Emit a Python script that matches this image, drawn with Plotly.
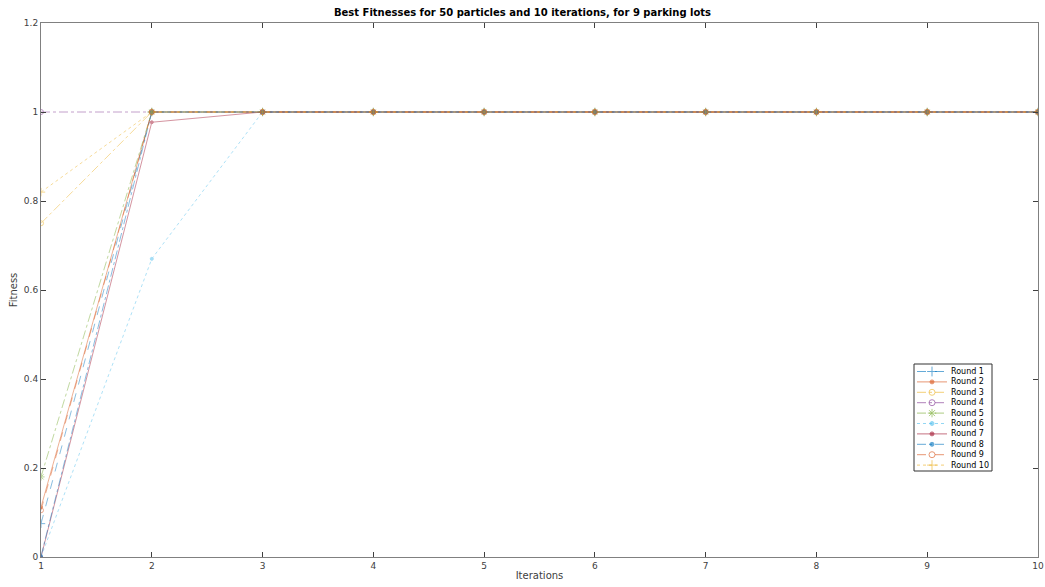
import plotly.graph_objects as go

iterations = [1, 2, 3, 4, 5, 6, 7, 8, 9, 10]
round_names = ["Round 1", "Round 2", "Round 3", "Round 4", "Round 5",
               "Round 6", "Round 7", "Round 8", "Round 9", "Round 10"]
round1 = [0.075, 1, 1, 1, 1, 1, 1, 1, 1, 1]
round2 = [0.112, 1, 1, 1, 1, 1, 1, 1, 1, 1]
round3 = [0.75, 1, 1, 1, 1, 1, 1, 1, 1, 1]
round4 = [1.0, 1, 1, 1, 1, 1, 1, 1, 1, 1]
round5 = [0.18, 1, 1, 1, 1, 1, 1, 1, 1, 1]
round6 = [0.0, 0.67, 1, 1, 1, 1, 1, 1, 1, 1]
round7 = [0.0, 0.977, 1, 1, 1, 1, 1, 1, 1, 1]
round8 = [0.002, 1, 1, 1, 1, 1, 1, 1, 1, 1]
round9 = [0.105, 1, 1, 1, 1, 1, 1, 1, 1, 1]
round10 = [0.82, 1, 1, 1, 1, 1, 1, 1, 1, 1]
rounds = [round1, round2, round3, round4, round5, round6, round7, round8, round9, round10]

colors = ["#0072BD", "#D95319", "#EDB120", "#7E2F8E", "#77AC30",
          "#4DBEEE", "#A2142F", "#0072BD", "#D95319", "#EDB120"]
dashes = ["dash", "solid", "dashdot", "dashdot", "dashdot",
          "dot", "solid", "dashdot", "dash", "dot"]
symbols = ["cross-thin-open", "circle", "circle-open", "circle-open", "asterisk-open",
           "circle", "circle", "circle", "circle-open", "cross-thin-open"]
msizes = [6, 3, 5, 5, 6, 3, 3, 3, 5, 6]

fig = go.Figure()
for name, vals, c, d, s, ms in zip(round_names, rounds, colors, dashes, symbols, msizes):
    fig.add_trace(go.Scatter(
        x=iterations, y=vals, name=name, mode="lines+markers",
        line=dict(color=c, dash=d, width=0.9),
        marker=dict(symbol=s, size=ms, color=c, line=dict(color=c, width=1)),
        opacity=0.5, showlegend=False,
    ))

# compact MATLAB-style legend drawn on an overlay axis (legend box pixel coordinates)
row_h = 10.4
for i, (name, c, d, s, ms) in enumerate(zip(round_names, colors, dashes, symbols, msizes)):
    yy = 7.5 + row_h * i
    fig.add_trace(go.Scatter(
        x=[3, 33], y=[yy, yy], mode="lines", xaxis="x2", yaxis="y2",
        line=dict(color=c, dash=d, width=1), opacity=0.6,
        showlegend=False, hoverinfo="skip"))
    fig.add_trace(go.Scatter(
        x=[18], y=[yy], mode="markers", xaxis="x2", yaxis="y2",
        marker=dict(symbol=s, size=ms + 1, color=c, line=dict(color=c, width=1)),
        opacity=0.6, showlegend=False, hoverinfo="skip"))
    fig.add_annotation(x=35, y=yy, xref="x2", yref="y2", text=name,
                       showarrow=False, xanchor="left", yanchor="middle",
                       font=dict(family="DejaVu Sans", size=8, color="black"))

fig.add_shape(type="rect", xref="x2 domain", yref="y2 domain", x0=0, x1=1, y0=0, y1=1,
              line=dict(color="#333333", width=1), fillcolor="rgba(255,255,255,0)",
              layer="above")

axis_common = dict(
    showline=True, linecolor="#808080", linewidth=1, mirror="ticks",
    ticks="inside", ticklen=5, tickcolor="#404040", tickwidth=1,
    showgrid=False, zeroline=False, automargin=False,
    tickfont=dict(family="DejaVu Sans", size=9, color="#404040"),
)

L, R, T, B = 41, 1038, 23, 557
pw, ph = R - L, B - T
lx0, lx1, ly0, ly1 = 914, 992, 364, 471

fig.update_layout(
    width=1045, height=587,
    margin=dict(l=L, r=1045 - R, t=T, b=587 - B, autoexpand=False),
    paper_bgcolor="white", plot_bgcolor="white",
    title=dict(text="<b>Best Fitnesses for 50 particles and 10 iterations, for 9 parking lots</b>",
               x=0.5, xanchor="center", y=0.978, yanchor="middle",
               font=dict(family="DejaVu Sans", size=10, color="black")),
    xaxis=dict(range=[1, 10], tickvals=iterations, **axis_common,
               title=dict(text="Iterations", standoff=2,
                          font=dict(family="DejaVu Sans", size=10, color="#404040"))),
    yaxis=dict(range=[0, 1.2], tickvals=[0, 0.2, 0.4, 0.6, 0.8, 1.0, 1.2],
               ticktext=["0", "0.2", "0.4", "0.6", "0.8", "1", "1.2"], **axis_common,
               title=dict(text="Fitness", standoff=4,
                          font=dict(family="DejaVu Sans", size=10, color="#404040"))),
    xaxis2=dict(domain=[(lx0 - L) / pw, (lx1 - L) / pw], range=[0, lx1 - lx0],
                anchor="y2", visible=False, fixedrange=True),
    yaxis2=dict(domain=[(B - ly1) / ph, (B - ly0) / ph], range=[ly1 - ly0, 0],
                anchor="x2", visible=False, fixedrange=True),
    showlegend=False,
)

fig.write_html("out.html")
